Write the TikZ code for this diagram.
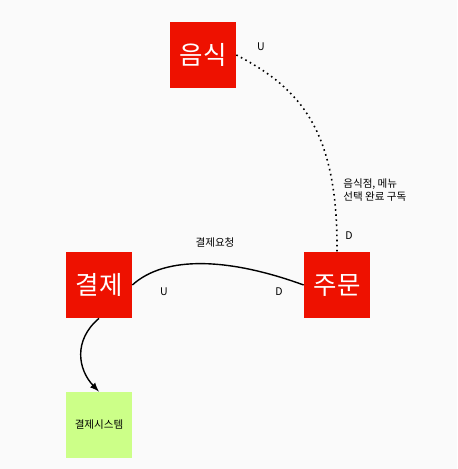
\documentclass[tikz,border=0pt]{standalone}
\usepackage{fontspec}
\setmainfont{Noto Sans CJK KR}
\definecolor{boxred}{RGB}{238,17,0}
\definecolor{boxgreen}{RGB}{204,255,136}
\definecolor{paper}{RGB}{250,250,250}
\tikzset{
    ctxbox/.style={fill=boxred,text=white,minimum size=1.32cm,inner sep=0pt,font=\fontsize{14.5}{16}\selectfont},
    extbox/.style={fill=boxgreen,text=black,minimum size=1.32cm,inner sep=0pt,font=\fontsize{6}{7}\selectfont},
    tag/.style={font=\fontsize{6}{7.5}\selectfont,inner sep=0pt}
}
\begin{document}
\begin{tikzpicture}[x=0.02cm,y=-0.02cm]
        \fill[paper] (0,0) rectangle (457,469);
        \useasboundingbox (0,0) rectangle (457,469);

        \node[ctxbox] (food) at (203,55){음식};
        \node[ctxbox] (pay) at (99,285){결제};
        \node[ctxbox] (order) at (337,285){주문};
        \node[extbox] (paysys) at (99,425){결제시스템};

        % 음식 -> 주문
        \draw[dotted,line width=0.9pt] (food.east) .. controls (300,88) and (338,130) .. (order.north);
        \node[tag] (fu) at (261,47){U};
        \node[tag] (od) at (349,236){D};
        \node[tag,anchor=west,align=left] (sub) at (343,190){음식점, 메뉴\\선택 완료 구독};

        % 결제 -> 주문
        \draw[line width=0.8pt] (pay.east) .. controls +(33,-30) and +(-74,-27) .. (order.west);
        \node[tag] (req) at (215,243){결제요청};
        \node[tag] (pu) at (164,292){U};
        \node[tag] (pd) at (279,292){D};

        % 결제 -> 결제시스템
        \draw[-latex,line width=0.8pt] (pay.south) .. controls +(-26,22) and +(-21,-22) .. (paysys.north);
    \end{tikzpicture}
\end{document}
